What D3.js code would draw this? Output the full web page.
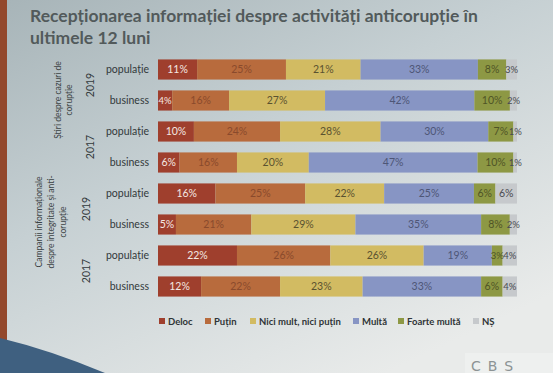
<!DOCTYPE html>
<html>
<head>
<meta charset="utf-8">
<script src="https://cdn.jsdelivr.net/npm/d3@7"></script>
<style>
  html, body { margin: 0; padding: 0; background: #c9d1d3; }
  svg { display: block; }
</style>
</head>
<body>
<div id="chart"></div>
<script>
// rows, top to bottom
const rowLabels = ["populație", "business", "populație", "business", "populație", "business", "populație", "business"];
const yearLabels = ["2019", "2017", "2019", "2017"];
const groupLabels = [
  ["Știri despre cazuri de", "corupție"],
  ["Campanii informaționale", "despre integritate și anti-", "corupție"]
];

const seriesNames = ["Deloc", "Puțin", "Nici mult, nici puțin", "Multă", "Foarte multă", "NȘ"];
const deloc = [11, 4, 10, 6, 16, 5, 22, 12];
const putin = [25, 16, 24, 16, 25, 21, 26, 22];
const nici = [21, 27, 28, 20, 22, 29, 26, 23];
const multa = [33, 42, 30, 47, 25, 35, 19, 33];
const foarte = [8, 10, 7, 10, 6, 8, 3, 6];
const ns = [3, 2, 1, 1, 6, 2, 4, 4];

const colors = ["#9f3f2d", "#b86b3d", "#d2bb62", "#8795c4", "#8d9844", "#c6c9cc"];
const labelColors = ["#f4e8e2", "#8a4a2c", "#5a5230", "#4e5676", "#4f5426", "#4a4c50"];

const width = 553, height = 373;

const svg = d3.select("#chart").append("svg")
  .attr("width", width)
  .attr("height", height);

// slide background
const defs = svg.append("defs");
const grad = defs.append("linearGradient").attr("id", "bg")
  .attr("x1", "0%").attr("y1", "0%").attr("x2", "70%").attr("y2", "100%");
grad.append("stop").attr("offset", "0%").attr("stop-color", "#a7b4b8");
grad.append("stop").attr("offset", "45%").attr("stop-color", "#c6d0d3");
grad.append("stop").attr("offset", "100%").attr("stop-color", "#e9ebea");

svg.append("rect").attr("width", width).attr("height", height).attr("fill", "url(#bg)");
svg.append("rect").attr("x", 0).attr("y", 0).attr("width", 7).attr("height", height).attr("fill", "#93482c");
svg.append("path")
  .attr("d", "M0,338 Q50,350 105,373 L0,373 Z")
  .attr("fill", "#3f6080");

// title
const title = svg.append("text")
  .attr("x", 30).attr("y", 22)
  .attr("font-family", "Lato, 'Open Sans', sans-serif")
  .attr("font-size", 17.5)
  .attr("font-weight", 700)
  .attr("fill", "#525a5b");
title.append("tspan").attr("x", 30).attr("y", 22).text("Recepționarea informației despre activități anticorupție în");
title.append("tspan").attr("x", 30).attr("y", 44).text("ultimele 12 luni");

// data table
const table = rowLabels.map((label, i) => ({
  row: i,
  label: label,
  "Deloc": deloc[i],
  "Puțin": putin[i],
  "Nici mult, nici puțin": nici[i],
  "Multă": multa[i],
  "Foarte multă": foarte[i],
  "NȘ": ns[i]
}));

const stack = d3.stack().keys(seriesNames).offset(d3.stackOffsetExpand);
const stacked = stack(table);

const x = d3.scaleLinear().domain([0, 1]).range([158, 517]);
const y = d3.scaleBand().domain(d3.range(rowLabels.length)).range([54, 302]).paddingInner(0.35).paddingOuter(0.175);
const color = d3.scaleOrdinal().domain(seriesNames).range(colors);
const labelColor = d3.scaleOrdinal().domain(seriesNames).range(labelColors);

const layers = svg.append("g").selectAll("g")
  .data(stacked)
  .join("g")
  .attr("fill", (d) => color(d.key));

layers.selectAll("rect")
  .data((d) => d)
  .join("rect")
  .attr("x", (d) => x(d[0]))
  .attr("y", (d, i) => y(i))
  .attr("width", (d) => x(d[1]) - x(d[0]))
  .attr("height", y.bandwidth());

// value labels (narrow segments get a slightly smaller font)
svg.append("g").selectAll("g")
  .data(stacked)
  .join("g")
  .attr("fill", (d) => labelColor(d.key))
  .each(function (layer) {
    d3.select(this).selectAll("text")
      .data(layer)
      .join("text")
      .attr("x", (d) => (x(d[0]) + x(d[1])) / 2)
      .attr("y", (d, i) => y(i) + y.bandwidth() / 2 + 3.5)
      .attr("text-anchor", "middle")
      .attr("font-family", "Lato, sans-serif")
      .attr("font-size", (d) => (x(d[1]) - x(d[0]) < 16 ? 9.5 : 10.5))
      .text((d) => d.data[layer.key] + "%");
  });

// row labels
svg.append("g").selectAll("text")
  .data(rowLabels)
  .join("text")
  .attr("x", 149)
  .attr("y", (d, i) => y(i) + y.bandwidth() / 2 + 3.5)
  .attr("text-anchor", "end")
  .attr("font-family", "Lato, sans-serif")
  .attr("font-size", 10.5)
  .attr("fill", "#33393b")
  .text((d) => d);

// year labels, rotated
svg.append("g").selectAll("text")
  .data(yearLabels)
  .join("text")
  .attr("transform", (d, i) => {
    const cy = (y(i * 2) + y(i * 2 + 1) + y.bandwidth()) / 2;
    return `translate(${i < 2 ? 94 : 90},${cy}) rotate(-90)`;
  })
  .attr("text-anchor", "middle")
  .attr("font-family", "Lato, sans-serif")
  .attr("font-size", 10.5)
  .attr("fill", "#33393b")
  .text((d) => d);

// group labels, rotated
const groupCenters = [100, 222];
const groupX = [[61, 72], [42, 54, 66]];
groupLabels.forEach((lines, g) => {
  lines.forEach((line, j) => {
    svg.append("text")
      .attr("transform", `translate(${groupX[g][j]},${groupCenters[g]}) rotate(-90)`)
      .attr("text-anchor", "middle")
      .attr("font-family", "Lato, sans-serif")
      .attr("font-size", 8.5)
      .attr("fill", "#3c4345")
      .text(line);
  });
});

// legend
const legendX = [159, 205, 250, 353, 398, 473];
const legend = svg.append("g").selectAll("g")
  .data(seriesNames)
  .join("g")
  .attr("transform", (d, i) => `translate(${legendX[i]},325)`);
legend.append("rect")
  .attr("x", 0).attr("y", -7)
  .attr("width", 6).attr("height", 6)
  .attr("fill", (d) => color(d));
legend.append("text")
  .attr("x", 9).attr("y", 0)
  .attr("font-family", "Lato, sans-serif")
  .attr("font-size", 9.5)
  .attr("font-weight", 700)
  .attr("fill", "#2f3436")
  .text((d) => d);

// logo
svg.append("rect").attr("x", 465).attr("y", 353).attr("width", 88).attr("height", 20).attr("fill", "#eef0ef");
svg.append("text")
  .attr("x", 471).attr("y", 371)
  .attr("font-family", "'DejaVu Sans', sans-serif")
  .attr("font-size", 14)
  .attr("letter-spacing", 7)
  .attr("fill", "#8c9394")
  .text("CBS");
</script>
</body>
</html>
